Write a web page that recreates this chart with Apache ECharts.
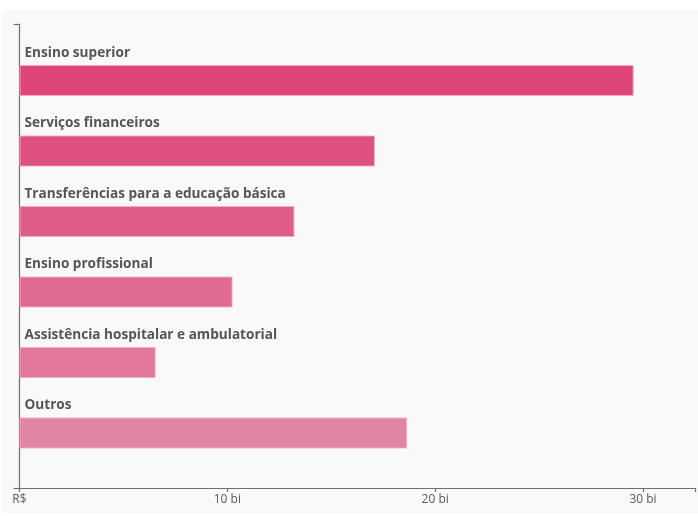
<!DOCTYPE html>
<html>
<head>
<meta charset="utf-8">
<script src="https://cdn.jsdelivr.net/npm/echarts@6/dist/echarts.min.js"></script>
<style>
  html, body { margin: 0; padding: 0; background: #fff; }
  #panel { position: absolute; left: 3px; top: 10px; width: 695px; height: 503px; background: #f9f9f9; }
  #chart { position: absolute; left: 0; top: 0; width: 698px; height: 516px; }
</style>
</head>
<body>
<div id="panel"></div>
<div id="chart"></div>
<script>
// categorias (de cima para baixo) e valores em R$ bi
const categorias = [
  "Ensino superior",
  "Serviços financeiros",
  "Transferências para a educação básica",
  "Ensino profissional",
  "Assistência hospitalar e ambulatorial",
  "Outros",
];
const valores = [29.55, 17.1, 13.23, 10.25, 6.55, 18.65];
const ticksX = [0, 10, 20, 30];
const rotulosX = ["R$", "10 bi", "20 bi", "30 bi"];
const maxX = 32.5;

const cores = ["#de4677", "#de5080", "#df5c88", "#e06a92", "#e0789b", "#e086a3"];

const myChart = echarts.init(document.getElementById("chart"));

const option = {
  animation: false,
  grid: [
    // eixos visiveis
    { left: 19.5, right: 3, top: 24, bottom: 28 },
    // barras
    { left: 19.5, right: 3, top: 45.25, bottom: 47.75 },
  ],
  xAxis: [
    {
      type: "value",
      gridIndex: 0,
      min: 0,
      max: maxX,
      splitLine: { show: false },
      axisLine: { show: true, lineStyle: { color: "#707070", width: 1.2 } },
      axisTick: {
        show: true,
        length: 4,
        customValues: ticksX.concat([maxX]),
        lineStyle: { color: "#707070", width: 1.2 },
      },
      axisLabel: {
        color: "#5a5a5a",
        fontFamily: "Open Sans",
        fontSize: 12,
        margin: 6,
        customValues: ticksX,
        formatter: (v) => rotulosX[ticksX.indexOf(v)] ?? "",
      },
    },
    {
      type: "value",
      gridIndex: 1,
      min: 0,
      max: maxX,
      show: false,
    },
  ],
  yAxis: [
    {
      type: "value",
      gridIndex: 0,
      min: 0,
      max: 1,
      splitLine: { show: false },
      axisLine: { show: true, lineStyle: { color: "#707070", width: 1.2 } },
      axisTick: { show: true, length: 6, customValues: [0, 1], lineStyle: { color: "#707070", width: 1.2 } },
      axisLabel: { show: false },
    },
    {
      type: "category",
      gridIndex: 1,
      inverse: true,
      data: categorias,
      show: false,
    },
  ],
  series: [
    {
      type: "bar",
      xAxisIndex: 1,
      yAxisIndex: 1,
      barWidth: 31,
      data: valores.map((v, i) => ({
        value: v,
        itemStyle: { color: cores[i] },
      })),
      itemStyle: { borderColor: "rgba(248,170,196,0.9)", borderWidth: 1 },
      label: {
        show: true,
        position: [5, -19],
        formatter: (p) => p.name,
        color: "#555",
        fontFamily: "Open Sans",
        fontWeight: "bold",
        fontSize: 13.6,
      },
    },
  ],
};

myChart.setOption(option);
</script>
</body>
</html>
